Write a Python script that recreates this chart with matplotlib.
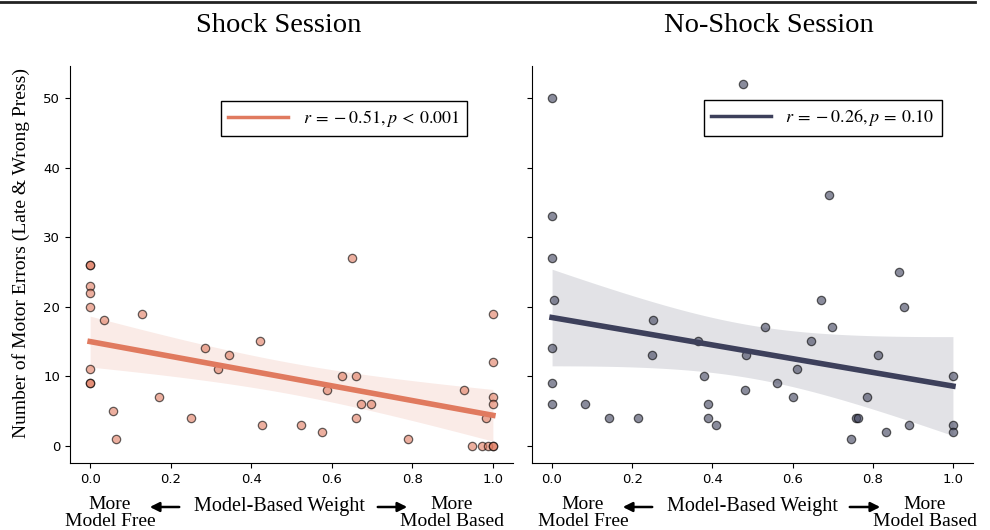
import numpy as np
import matplotlib
matplotlib.use("Agg")
from matplotlib import pyplot as plt
from matplotlib.lines import Line2D
from matplotlib.patches import FancyArrowPatch

plt.rcParams['font.family'] = ['Liberation Serif', 'DejaVu Serif']
plt.rcParams['mathtext.fontset'] = 'stix'

# data
shock_x = [0, 0, 0, 0, 0, 0, 0, 0, 0.035, 0.13, 0.056, 0.064, 0.17, 0.25,
           0.285, 0.317, 0.346, 0.421, 0.426, 0.524, 0.576, 0.587, 0.625,
           0.65, 0.66, 0.66, 0.673, 0.698, 0.79, 0.929, 0.948, 0.972, 0.987,
           0.983, 1.0, 1.0, 1.0, 1.0, 1.0, 1.0]
shock_y = [26, 26, 23, 22, 20, 11, 9, 9, 18, 19, 5, 1, 7, 4,
           14, 11, 13, 15, 3, 3, 2, 8, 10,
           27, 10, 4, 6, 6, 1, 8, 0, 0, 0,
           4, 0, 0, 19, 12, 7, 6]

noshock_x = [0, 0, 0, 0.004, 0, 0, 0, 0.082, 0.143, 0.215, 0.253, 0.25,
             0.363, 0.379, 0.388, 0.388, 0.408, 0.477, 0.484, 0.481, 0.531,
             0.562, 0.602, 0.612, 0.645, 0.671, 0.69, 0.699, 0.745, 0.758,
             0.763, 0.786, 0.814, 0.834, 0.866, 0.878, 0.891, 1.0, 1.0, 1.0]
noshock_y = [50, 33, 27, 21, 14, 9, 6, 6, 4, 4, 18, 13,
             15, 10, 6, 4, 3, 52, 13, 8, 17,
             9, 7, 11, 15, 21, 36, 17, 1, 4,
             4, 7, 13, 2, 25, 20, 3, 10, 3, 2]

titles = ["Shock Session", "No-Shock Session"]
stats = [r"$r\:=\:-\:0.51,p\:<\:0.001$", r"$r\:=\:-\:0.26,p\:=\:0.10$"]
colors = ["#E07A5F", "#3D405B"]

W, H = 990, 530


def fx(px):
    return px / W


def fy(py):
    return 1 - py / H


def regplot(ax, x, y, color):
    x = np.array(x, dtype=float)
    y = np.array(y, dtype=float)
    ax.scatter(x, y, s=36, color=color, alpha=0.6, edgecolor='k',
               linewidths=0.9, zorder=3)
    b, a = np.polyfit(x, y, 1)
    grid = np.linspace(x.min(), x.max(), 100)
    n = len(x)
    resid = y - (a + b * x)
    s = np.sqrt(np.sum(resid ** 2) / (n - 2))
    se = s * np.sqrt(1 / n + (grid - x.mean()) ** 2 / np.sum((x - x.mean()) ** 2))
    fit = a + b * grid
    t = 2.024
    ax.fill_between(grid, fit - t * se, fit + t * se, color=color,
                    alpha=0.15, linewidth=0, zorder=1)
    ax.plot(grid, fit, color=color, lw=4, zorder=4)
    return Line2D([], [], color=color, lw=2.5)


fig = plt.figure(figsize=(9.9, 5.3), dpi=100)
ax1 = fig.add_axes([fx(70), fy(463), fx(443), 397 / H])
ax2 = fig.add_axes([fx(532), fy(463), fx(441), 397 / H], sharey=ax1)

data = [(shock_x, shock_y), (noshock_x, noshock_y)]
anchors = [(0.896, 0.912), (0.930, 0.914)]
for ax, (x, y), c, st, anc in zip([ax1, ax2], data, colors, stats, anchors):
    h = regplot(ax, x, y, c)
    leg = ax.legend([h], [st], loc='upper right', bbox_to_anchor=anc,
                    borderaxespad=0, fontsize=13, handlelength=3.3,
                    fancybox=False, framealpha=1, edgecolor='k')
    leg.get_frame().set_linewidth(1.0)
    ax.set_xlim(-0.05, 1.05)
    ax.set_ylim(-2.5, 54.6)
    ax.set_xticks([0.0, 0.2, 0.4, 0.6, 0.8, 1.0])
    ax.set_yticks([0, 10, 20, 30, 40, 50])
    for lab in ax.get_xticklabels() + ax.get_yticklabels():
        lab.set_family('DejaVu Sans')
        lab.set_fontsize(9.5)
    ax.spines['top'].set_visible(False)
    ax.spines['right'].set_visible(False)

plt.setp(ax2.get_yticklabels(), visible=False)
ax1.set_ylabel("Number of Motor Errors (Late & Wrong Press)", fontsize=14)
ax1.yaxis.set_label_coords(-0.09, 0.53)

fig.text(fx(279), fy(25), titles[0], fontsize=20.5, ha='center', va='center')
fig.text(fx(769), fy(25), titles[1], fontsize=20.5, ha='center', va='center')

# x label pieces below each panel
pieces = [(110, 279, 452, (182, 147), (375, 410)),
          (583, 752, 925, (655, 620), (847, 883))]
for left, mid, right, la, ra in pieces:
    fig.text(fx(left), fy(513), "More\nModel Free", fontsize=14,
             ha='center', va='center', linespacing=1.05)
    fig.text(fx(mid), fy(507), "Model-Based Weight", fontsize=14.5,
             ha='center', va='center')
    fig.text(fx(right), fy(513), "More\nModel Based", fontsize=14,
             ha='center', va='center', linespacing=1.05)
    for a in (la, ra):
        fig.add_artist(FancyArrowPatch(
            (fx(a[0]), fy(507)), (fx(a[1]), fy(507)),
            transform=fig.transFigure, arrowstyle='-|>', mutation_scale=14,
            color='k', lw=1.8))

fig.add_artist(Line2D([0, fx(975)], [fy(1.5), fy(1.5)],
                      transform=fig.transFigure, color='#222', lw=2))

plt.savefig("out.png", dpi=100)
